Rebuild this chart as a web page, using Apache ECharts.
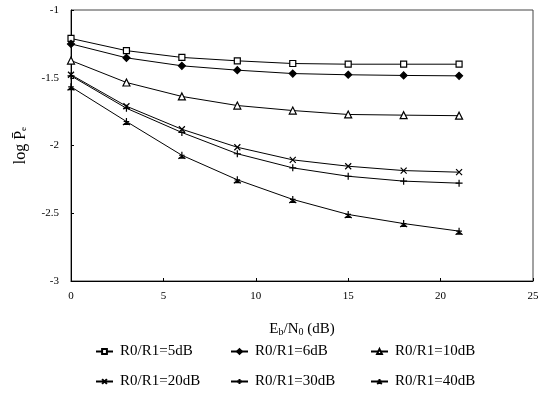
<!DOCTYPE html>
<html><head><meta charset="utf-8">
<script src="https://cdn.jsdelivr.net/npm/echarts@6/dist/echarts.min.js"></script>
<style>html,body{margin:0;padding:0;background:#fff}#c{width:553px;height:394px}</style>
</head><body><div id="c"></div>
<script>
const xValues = [0, 3, 6, 9, 12, 15, 18, 21];
const seriesNames = ['R0/R1=5dB', 'R0/R1=6dB', 'R0/R1=10dB', 'R0/R1=20dB', 'R0/R1=30dB', 'R0/R1=40dB'];
const r5 = [-1.21, -1.30, -1.35, -1.375, -1.395, -1.40, -1.40, -1.40];
const r6 = [-1.25, -1.353, -1.412, -1.444, -1.469, -1.478, -1.483, -1.486];
const r10 = [-1.373, -1.535, -1.638, -1.705, -1.742, -1.771, -1.776, -1.78];
const r20 = [-1.478, -1.71, -1.88, -2.013, -2.106, -2.153, -2.185, -2.197];
const r30 = [-1.486, -1.725, -1.904, -2.061, -2.165, -2.227, -2.263, -2.278];
const r40 = [-1.567, -1.823, -2.072, -2.253, -2.398, -2.509, -2.576, -2.632];
const yTicks = [-3, -2.5, -2, -1.5, -1];
const xTicks = [0, 5, 10, 15, 20, 25];

const serif = '"Liberation Serif","DejaVu Serif",serif';
const xPath = 'path://M0,0L10,10M10,0L0,10';
const plusPath = 'path://M5,0L5,10M0,5L10,5';
const starPath = 'path://M5,0L5,6M0,10L5,6L10,10M1,5L9,5';
const dataSets = [r5, r6, r10, r20, r30, r40];
const symbols = ['rect', 'diamond', 'triangle', xPath, plusPath, starPath];
const fills = ['#fff', '#000', '#fff', '#000', '#000', '#000'];
const sizes = [6, 7, 7, 6, 7, 7];

const series = dataSets.map((d, i) => ({
  name: seriesNames[i],
  type: 'line',
  data: xValues.map((x, j) => [x, d[j]]),
  symbol: symbols[i],
  symbolSize: sizes[i],
  showSymbol: true,
  lineStyle: { color: '#000', width: 1 },
  itemStyle: { color: fills[i], borderColor: '#000', borderWidth: 1.2 },
  emphasis: { disabled: true }
}));

const legendLeft = [95, 230, 370, 95, 230, 370];
const legendTop = [344, 344, 344, 374, 374, 374];
const legends = seriesNames.map((n, i) => ({
  data: [n], left: legendLeft[i], top: legendTop[i],
  itemWidth: 17, itemHeight: 6, itemGap: 0, padding: 0,
  textStyle: { fontFamily: serif, fontSize: 15, color: '#000', padding: [0, 0, 0, 2] }
}));

const chart = echarts.init(document.getElementById('c'));
chart.setOption({
  animation: false,
  backgroundColor: '#fff',
  textStyle: { fontFamily: serif, color: '#000' },
  grid: { left: 71, right: 20, top: 10, bottom: 113, show: true, borderColor: '#444', borderWidth: 1 },
  xAxis: {
    type: 'value', min: xTicks[0], max: xTicks[xTicks.length - 1], interval: 5,
    axisLine: { lineStyle: { color: '#000', width: 1 } },
    axisTick: { inside: true, length: 3, lineStyle: { color: '#000' } },
    splitLine: { show: false },
    axisLabel: { fontFamily: serif, fontSize: 11, color: '#000', margin: 10 },
    name: '{n|E}{s|b}{n|/N}{s|0}{n| (dB)}',
    nameLocation: 'middle', nameGap: 40,
    nameTextStyle: { rich: { n: { fontFamily: serif, fontSize: 15, color: '#000' }, s: { fontFamily: serif, fontSize: 10, color: '#000', padding: [6, 0, 0, 0] } } }
  },
  yAxis: {
    type: 'value', min: yTicks[0], max: yTicks[yTicks.length - 1], interval: 0.5,
    axisLine: { show: true, lineStyle: { color: '#000', width: 1 } },
    axisTick: { show: true, inside: true, length: 3, lineStyle: { color: '#000' } },
    splitLine: { show: false },
    axisLabel: { fontFamily: serif, fontSize: 11, color: '#000', margin: 12 },
    name: 'log P\u0304\u2091',
    nameLocation: 'middle', nameGap: 42,
    nameTextStyle: { fontFamily: serif, fontSize: 16, color: '#000' }
  },
  legend: legends,
  series: series
});
</script></body></html>
